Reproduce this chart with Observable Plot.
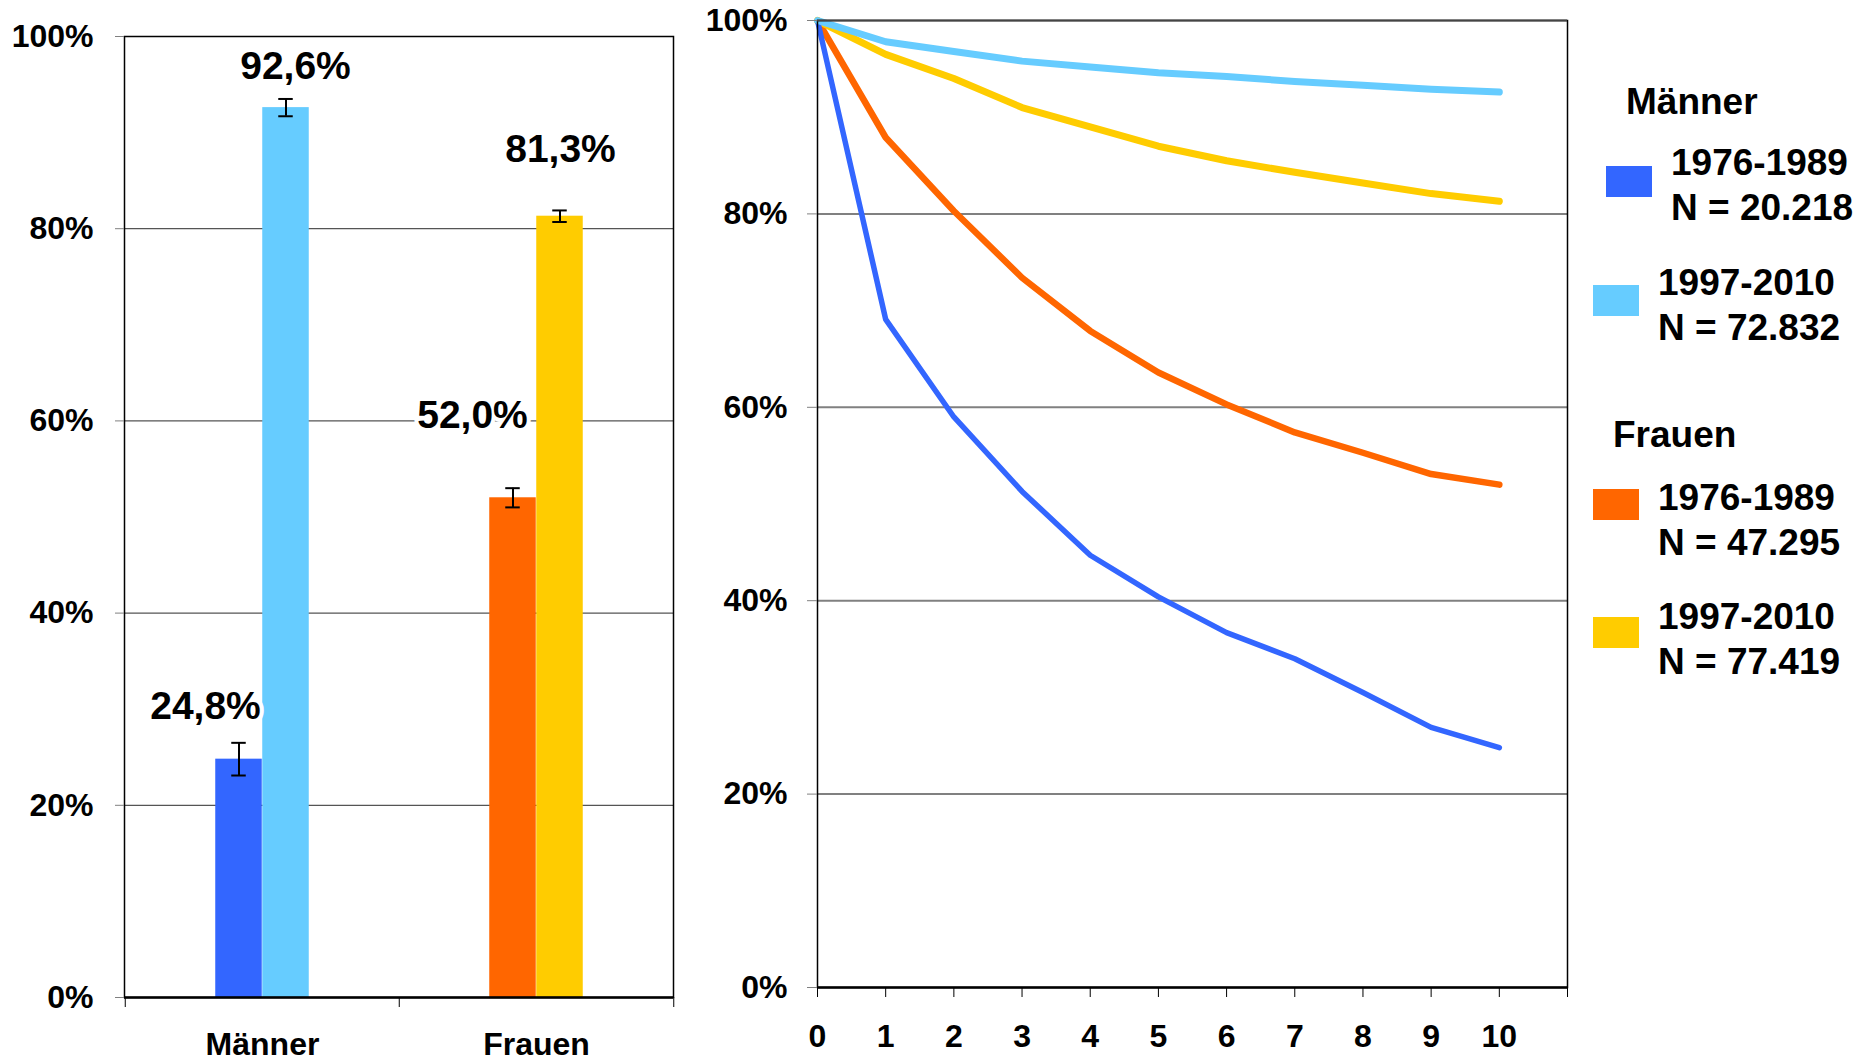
<!DOCTYPE html>
<html>
<head>
<meta charset="utf-8">
<script src="https://cdn.jsdelivr.net/npm/d3@7"></script>
<script src="https://cdn.jsdelivr.net/npm/@observablehq/plot@0.6"></script>
<style>
  html, body { margin: 0; padding: 0; background: #fff; }
  body { width: 1874px; height: 1062px; overflow: hidden; position: relative;
         font-family: "Liberation Sans", Arial, Helvetica, sans-serif; }
  #left { position: absolute; left: 0; top: 0; }
  #right { position: absolute; left: 700px; top: 0; }
  .lg { position: absolute; font-weight: bold; font-size: 37px; line-height: 45px; color: #000; white-space: nowrap; }
  .sw { position: absolute; width: 46px; height: 31px; }
</style>
</head>
<body>
<div id="left"></div>
<div id="right"></div>
<div id="legend"></div>
<script>
// ---------- data ----------
const groups = ["Männer", "Frauen"];
const periods = ["1976-1989", "1997-2010"];
const seriesColors = ["#3366ff", "#66ccff", "#ff6600", "#ffcc00"]; // Männer old/new, Frauen old/new

// bar chart (value after 10 years)
const barOld = [24.8, 52.0];      // 1976-1989
const barNew = [92.6, 81.3];      // 1997-2010
const errOld = [1.7, 1.0];
const errNew = [0.9, 0.6];

// line chart (years 0..10)
const years = [0, 1, 2, 3, 4, 5, 6, 7, 8, 9, 10];
const menOld   = [100, 69.1, 59.0, 51.3, 44.7, 40.4, 36.7, 34.0, 30.5, 26.9, 24.8];
const menNew   = [100, 97.8, 96.8, 95.8, 95.2, 94.6, 94.2, 93.7, 93.3, 92.9, 92.6];
const womenOld = [100, 87.9, 80.3, 73.4, 67.9, 63.6, 60.3, 57.4, 55.3, 53.1, 52.0];
const womenNew = [100, 96.5, 94.0, 91.0, 89.0, 87.0, 85.5, 84.3, 83.2, 82.1, 81.3];

const yTicks = [0, 20, 40, 60, 80, 100];
const xTickLabels = [0, 1, 2, 3, 4, 5, 6, 7, 8, 9, 10];
const xTickEnd = 11;

const legendGroups = ["Männer", "Frauen"];
const legendN = ["20.218", "72.832", "47.295", "77.419"];

// ---------- derived tables ----------
const bars = [];
groups.forEach((g, i) => {
  bars.push({group: g, period: periods[0], value: barOld[i], err: errOld[i], color: seriesColors[i * 2]});
  bars.push({group: g, period: periods[1], value: barNew[i], err: errNew[i], color: seriesColors[i * 2 + 1]});
});
bars.forEach(d => d.label = d.value.toFixed(1).replace(".", ",") + "%");

const lineSeries = [
  {key: "Frauen 1976-1989", values: womenOld, color: seriesColors[2], w: 6.5},
  {key: "Frauen 1997-2010", values: womenNew, color: seriesColors[3], w: 7},
  {key: "Männer 1976-1989", values: menOld, color: seriesColors[0], w: 5.5},
  {key: "Männer 1997-2010", values: menNew, color: seriesColors[1], w: 7}
];

const font = {fontFamily: "'Liberation Sans', Arial, Helvetica, sans-serif", fontSize: "32px", fontWeight: "bold", color: "#000", background: "transparent", overflow: "visible"};
const noText = () => "";

// ---------- left: bar chart ----------
{
  const W = 700, H = 1062, mL = 124, mR = 27, mT = 36, mB = 65;
  const bw = (W - mL - mR) / groups.length;
  const barW = 47;
  const capHalf = 7.5;
  const barOffset = p => (p === periods[0] ? -barW / 2 : barW / 2);
  const labelDx = [-57, 33, -64, 24];
  const labelDy = [-40, -29, -70, -54];

  const marks = [
    Plot.ruleY([20, 40, 60, 80], {stroke: "#555", strokeWidth: 1.3}),
    ...periods.map((p, k) => Plot.barY(bars.filter(d => d.period === p), {
      x: "group", y: "value", fill: "color",
      insetLeft: k === 0 ? bw / 2 - barW : bw / 2,
      insetRight: k === 0 ? bw / 2 : bw / 2 - barW
    })),
    ...periods.map((p, k) => Plot.ruleX(bars.filter(d => d.period === p), {
      x: "group", y1: d => d.value - d.err, y2: d => d.value + d.err,
      dx: barOffset(p), stroke: "#000", strokeWidth: 2
    })),
    ...periods.flatMap((p, k) => ["lo", "hi"].map(s => Plot.tickY(bars.filter(d => d.period === p), {
      x: "group", y: d => s === "lo" ? d.value - d.err : d.value + d.err,
      insetLeft: bw / 2 + barOffset(p) - capHalf,
      insetRight: bw / 2 - barOffset(p) - capHalf,
      stroke: "#000", strokeWidth: 2
    }))),
    ...bars.map((d, i) => Plot.text([d], {
      x: "group", y: "value", text: "label", dx: labelDx[i], dy: labelDy[i],
      lineAnchor: "bottom", fontSize: 39, fontWeight: "bold", fill: "#000",
      stroke: "white", strokeWidth: 8, paintOrder: "stroke"
    })),
    Plot.frame({stroke: "#000", strokeWidth: 1.5}),
    Plot.ruleY([0], {stroke: "#000", strokeWidth: 2.5}),
    Plot.axisY(yTicks, {tickSize: 9, tickPadding: 22, tickFormat: d => d + "%", stroke: "#808080", fill: "#000", label: null}),
    Plot.axisX(groups, {tickSize: 0, tickPadding: 35, fontSize: 32, fill: "#000", label: null}),
    Plot.axisX(groups, {tickSize: 10, dx: -bw / 2, stroke: "#000", tickFormat: noText, label: null}),
    Plot.axisX([groups[groups.length - 1]], {tickSize: 10, dx: bw / 2, stroke: "#000", tickFormat: noText, label: null})
  ];

  const chart = Plot.plot({
    width: W, height: H, marginLeft: mL, marginRight: mR, marginTop: mT, marginBottom: mB,
    style: font,
    x: {domain: groups, padding: 0},
    y: {domain: [0, 100]},
    marks
  });
  document.getElementById("left").append(chart);
}

// ---------- right: line chart ----------
{
  const W = 880, H = 1062, mL = 117, mR = 13, mT = 20, mB = 75;
  const marks = [
    Plot.ruleY([20, 40, 60, 80], {stroke: "#808080", strokeWidth: 2}),
    ...lineSeries.map(s => Plot.lineY(s.values, {
      x: (d, i) => years[i], y: d => d, stroke: s.color, strokeWidth: s.w,
      strokeLinejoin: "round", strokeLinecap: "round"
    })),
    Plot.frame({stroke: "#000", strokeWidth: 1.5}),
    Plot.ruleY([100], {stroke: "#444", strokeWidth: 2}),
    Plot.ruleY([0], {stroke: "#000", strokeWidth: 2.5}),
    Plot.axisY(yTicks, {tickSize: 10, tickPadding: 20, tickFormat: d => d + "%", stroke: "#808080", fill: "#000", label: null}),
    Plot.axisX(xTickLabels, {tickSize: 10, tickPadding: 27, stroke: "#000", fill: "#000", label: null}),
    Plot.axisX([xTickEnd], {tickSize: 10, stroke: "#000", tickFormat: noText, label: null})
  ];
  const chart = Plot.plot({
    width: W, height: H, marginLeft: mL, marginRight: mR, marginTop: mT, marginBottom: mB,
    style: font,
    x: {domain: [0, xTickEnd]},
    y: {domain: [0, 100]},
    marks
  });
  document.getElementById("right").append(chart);
}

// ---------- legend ----------
{
  const lg = document.getElementById("legend");
  const add = (cls, left, top, html, bg) => {
    const el = document.createElement("div");
    el.className = cls;
    el.style.left = left + "px";
    el.style.top = top + "px";
    if (html != null) el.innerHTML = html;
    if (bg) el.style.background = bg;
    lg.append(el);
  };
  const titleLayout = [{x: 1626, top: 79}, {x: 1613, top: 412}];
  const entryLayout = [
    {sx: 1606, sy: 166, tx: 1671, ty: 140},
    {sx: 1593, sy: 285, tx: 1658, ty: 260},
    {sx: 1593, sy: 489, tx: 1658, ty: 475},
    {sx: 1593, sy: 617, tx: 1658, ty: 594}
  ];
  legendGroups.forEach((g, gi) => {
    add("lg", titleLayout[gi].x, titleLayout[gi].top, g);
    periods.forEach((p, pi) => {
      const k = gi * 2 + pi;
      const L = entryLayout[k];
      add("sw", L.sx, L.sy, null, seriesColors[k]);
      add("lg", L.tx, L.ty, p + "<br>N = " + legendN[k]);
    });
  });
}
</script>
</body>
</html>
